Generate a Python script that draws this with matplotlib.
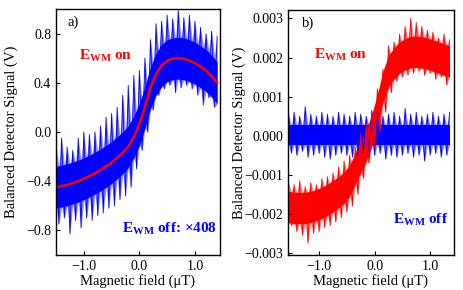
import numpy as np
import matplotlib.pyplot as plt

plt.rcParams['font.family'] = 'Liberation Serif'
plt.rcParams['font.size'] = 10.5
plt.rcParams['mathtext.fontset'] = 'custom'
plt.rcParams['mathtext.rm'] = 'Liberation Serif'
plt.rcParams['mathtext.bf'] = 'Liberation Serif:bold'
plt.rcParams['axes.linewidth'] = 1.0

# ---- panel a: E_WM off (scaled x408) data + E_WM on fit, in V ----
field_a = [-1.5, -1.4, -1.3, -1.2, -1.1, -1.0, -0.9, -0.8, -0.7, -0.6,
           -0.5, -0.4, -0.3, -0.2, -0.1, 0.0, 0.1, 0.2, 0.3, 0.4,
           0.5, 0.6, 0.7, 0.8, 0.9, 1.0, 1.1, 1.2, 1.3, 1.4]
fit_a = [-0.45, -0.44, -0.43, -0.415, -0.40, -0.38, -0.36, -0.335, -0.31, -0.28,
         -0.25, -0.21, -0.17, -0.12, -0.04, 0.06, 0.20, 0.36, 0.47, 0.54,
         0.58, 0.595, 0.60, 0.595, 0.58, 0.56, 0.53, 0.50, 0.455, 0.40]
noise_hi_a = [-0.10, -0.05, -0.12, -0.15, -0.05, 0.0, -0.02, 0.0, 0.05, 0.12,
              0.15, 0.20, 0.30, 0.38, 0.46, 0.50, 0.60, 0.75, 0.88, 0.90,
              0.95, 0.92, 1.00, 0.93, 0.95, 0.90, 0.85, 0.80, 0.82, 0.78]
noise_lo_a = [-0.75, -0.70, -0.83, -0.72, -0.78, -0.70, -0.72, -0.68, -0.66, -0.62,
              -0.60, -0.55, -0.52, -0.45, -0.30, -0.15, 0.0, 0.18, 0.30, 0.35,
              0.38, 0.32, 0.36, 0.38, 0.35, 0.30, 0.22, 0.28, 0.20, 0.12]
core_a = 0.17

# ---- panel b: raw signals, in mV ----
field_b = [-1.55, -1.45, -1.35, -1.25, -1.15, -1.05, -0.95, -0.85, -0.75, -0.65,
           -0.55, -0.45, -0.35, -0.25, -0.15, -0.05, 0.05, 0.15, 0.25, 0.35,
           0.45, 0.55, 0.65, 0.75, 0.85, 0.95, 1.05, 1.15, 1.25, 1.35]
on_mid_b = [-1.82, -1.85, -1.85, -1.85, -1.82, -1.78, -1.72, -1.64, -1.55, -1.45,
            -1.33, -1.15, -0.85, -0.55, -0.25, 0.15, 0.65, 1.25, 1.65, 1.85,
            2.00, 2.08, 2.14, 2.15, 2.13, 2.10, 2.05, 2.00, 1.95, 1.90]
on_hi_b = [-1.20, -1.25, -1.15, -1.30, -1.20, -1.25, -1.10, -1.05, -0.95, -0.80,
           -0.65, -0.50, -0.30, 0.05, 0.30, 0.60, 1.20, 1.70, 2.30, 2.40,
           2.60, 2.80, 3.00, 2.90, 2.80, 2.70, 2.65, 2.50, 2.60, 2.45]
on_lo_b = [-2.30, -2.45, -2.55, -2.75, -2.50, -2.45, -2.35, -2.30, -2.20, -2.10,
           -1.95, -1.80, -1.50, -1.10, -0.70, -0.30, 0.10, 0.60, 1.10, 1.40,
           1.50, 1.55, 1.60, 1.65, 1.55, 1.60, 1.45, 1.50, 1.30, 1.45]
on_core_b = 0.4
off_mid_b = [0.02] * 30
off_hi_b = [0.55, 0.60, 0.50, 0.75, 0.55, 0.50, 0.60, 0.55, 0.50, 0.60,
            0.55, 0.50, 0.60, 0.55, 0.50, 0.65, 0.60, 0.50, 0.55, 0.60,
            0.50, 0.70, 0.55, 0.60, 0.50, 0.55, 0.60, 0.50, 0.55, 0.60]
off_lo_b = [-0.45, -0.50, -0.40, -0.55, -0.50, -0.45, -0.55, -0.60, -0.50, -0.45,
            -0.50, -0.55, -0.50, -0.45, -0.55, -0.50, -0.45, -0.60, -0.50, -0.55,
            -0.50, -0.45, -0.55, -0.50, -0.65, -0.50, -0.45, -0.55, -0.50, -0.70]
off_core_b = 0.25

xticks = [-1.0, 0.0, 1.0]
xtick_labels = ['\u22121.0', '0.0', '1.0']
yticks_a = [-0.8, -0.4, 0.0, 0.4, 0.8]
ytick_labels_a = ['\u22120.8', '\u22120.4', '0.0', '0.4', '0.8']
yticks_b = [-0.003, -0.002, -0.001, 0.0, 0.001, 0.002, 0.003]
ytick_labels_b = ['\u22120.003', '\u22120.002', '\u22120.001', '0.000',
                  '0.001', '0.002', '0.003']

BLUE = '#0000ff'
RED = '#ff0000'


def noisy_band(ax, x, mid, hi, lo, core, color, scale=1.0):
    """Noise band: solid dense core, lighter spiky fringe out to the read
    extremes, and a thin trace jumping between those extremes."""
    x = np.asarray(x)
    mid = np.asarray(mid)
    step = x[1] - x[0]
    keep = np.column_stack([x, x + step / 2]).ravel() <= x[-1] + 1e-9
    xs = np.column_stack([x, x + step / 2]).ravel()[keep]
    upper = np.column_stack([hi, mid + core]).ravel()[keep]
    lower = np.column_stack([mid - core, lo]).ravel()[keep]
    ax.fill_between(xs, lower * scale, upper * scale, color=color, alpha=0.45, lw=0)
    ax.fill_between(x, (mid - core) * scale, (mid + core) * scale, color=color, lw=0)
    ys = np.column_stack([hi, lo]).ravel()[keep]
    ax.plot(xs, ys * scale, color=color, lw=0.6)


def style_axes(ax, label_x):
    ax.tick_params(direction='in', length=3, width=0.8, labelsize=10,
                   top=False, right=False)
    ax.set_xlabel('Magnetic field (\u03bcT)', labelpad=1)
    ax.set_ylabel('Balanced Detector Signal (V)')
    ax.yaxis.set_label_coords(label_x, 0.5)
    ax.set_xticks(xticks)
    ax.set_xticklabels(xtick_labels)


fig = plt.figure(figsize=(4.63, 2.90), dpi=100)
ax1 = fig.add_axes([0.121, 0.121, 0.354, 0.848])
ax2 = fig.add_axes([0.622, 0.121, 0.3585, 0.845])

# panel a
noisy_band(ax1, field_a, fit_a, noise_hi_a, noise_lo_a, core_a, BLUE)
ax1.plot(field_a, fit_a, color=RED, lw=1.8)
ax1.set_xlim(-1.5, 1.45)
ax1.set_ylim(-1.0, 1.0)
ax1.set_yticks(yticks_a)
ax1.set_yticklabels(ytick_labels_a)
style_axes(ax1, -0.232)
ax1.text(-1.29, 0.86, 'a)', fontsize=10.5)
ax1.text(-1.09, 0.59, r'$\mathbf{E}_{\mathbf{WM}}$ on', color=RED,
         fontsize=11, fontweight='bold')
ax1.text(1.4, -0.82, r'$\mathbf{E}_{\mathbf{WM}}$ off: $\mathbf{\times}$408',
         color=BLUE, fontsize=11, fontweight='bold', ha='right')

# panel b
noisy_band(ax2, field_b, off_mid_b, off_hi_b, off_lo_b, off_core_b, BLUE, 1e-3)
noisy_band(ax2, field_b, on_mid_b, on_hi_b, on_lo_b, on_core_b, RED, 1e-3)
ax2.set_xlim(-1.56, 1.43)
ax2.set_ylim(-0.00305, 0.00322)
ax2.set_yticks(yticks_b)
ax2.set_yticklabels(ytick_labels_b)
style_axes(ax2, -0.253)
ax2.text(-1.30, 0.00278, 'b)', fontsize=10.5)
ax2.text(-1.1, 0.00199, r'$\mathbf{E}_{\mathbf{WM}}$ on', color=RED,
         fontsize=11, fontweight='bold')
ax2.text(1.33, -0.00224, r'$\mathbf{E}_{\mathbf{WM}}$ off', color=BLUE,
         fontsize=11, fontweight='bold', ha='right')

fig.savefig('out.png', dpi=100)
